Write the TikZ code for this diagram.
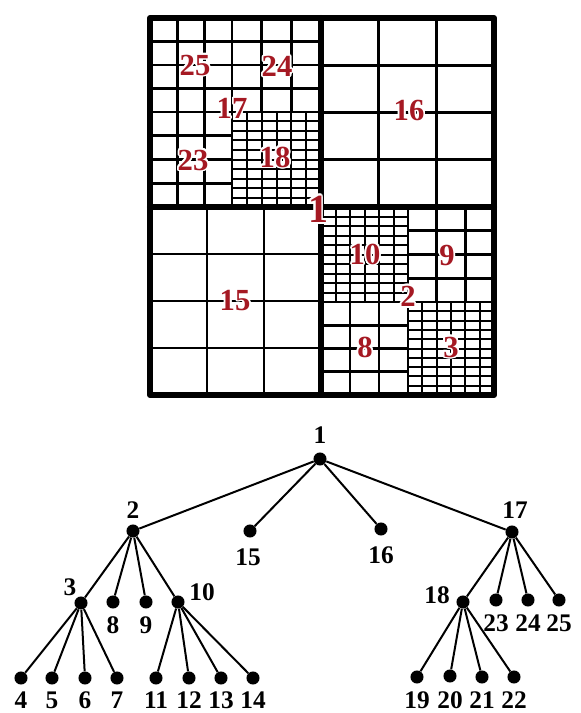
\documentclass[tikz,border=0pt]{standalone}
\usepackage{fontspec}
\setmainfont{Liberation Serif}
\usepackage{contour}
\contourlength{1.3pt}
\definecolor{labred}{RGB}{165,25,35}
\newcommand\qgrid[6]{%
  \foreach \k in {0,...,#5}{\draw[gridline] ({#1+(#3-#1)*\k/#5},#2) -- ({#1+(#3-#1)*\k/#5},#4);}%
  \foreach \k in {0,...,#6}{\draw[gridline] (#1,{#2+(#4-#2)*\k/#6}) -- (#3,{#2+(#4-#2)*\k/#6});}%
}
\tikzset{
  gridline/.style={line width=1.9pt},
  thickline/.style={line width=4.6pt, line cap=round, line join=round},
  gl/.style={text=labred, font=\bfseries\fontsize{23}{23}\selectfont, inner sep=0pt},
  bigl/.style={text=labred, font=\bfseries\fontsize{30}{30}\selectfont, inner sep=0pt},
  dot/.style={circle, fill=black, inner sep=0pt, minimum size=9.8pt},
  tl/.style={font=\bfseries\fontsize{19}{19}\selectfont, inner sep=0pt},
  edge/.style={line width=1.5pt},
}
\begin{document}
\begin{tikzpicture}[x=0.75pt,y=-0.75pt]
\useasboundingbox (0,0) rectangle (581,713);
\fill[white] (0,0) rectangle (581,713);
% ---------- quadtree grid ----------
% quadrant 17 (top-left)
\qgrid{150}{18}{232}{112}{3}{4}
\qgrid{232}{18}{321}{112}{3}{4}
\qgrid{150}{112}{232}{207}{3}{4}
\begin{scope}[gridline/.style={line width=1.5pt}]
\qgrid{232}{112}{321}{207}{6}{10}
\end{scope}
% quadrant 16 (top-right)
\qgrid{321}{18}{494}{207}{3}{4}
% quadrant 15 (bottom-left)
\qgrid{150}{207}{321}{395}{3}{4}
% quadrant 2 (bottom-right)
\begin{scope}[gridline/.style={line width=1.5pt}]
\qgrid{321}{207}{408}{302}{6}{10}
\qgrid{408}{302}{494}{395}{6}{10}
\end{scope}
\qgrid{408}{207}{494}{302}{3}{4}
\qgrid{321}{302}{408}{395}{3}{4}
% thick lines
\draw[thickline] (150,18) rectangle (494,395);
\draw[thickline] (321,18) -- (321,395);
\draw[thickline] (150,207) -- (494,207);
% labels
\node[gl] (g25) at (195,66) {\contour{white}{25}};
\node[gl] (g24) at (277,67) {\contour{white}{24}};
\node[gl] (g17) at (232,109) {\contour{white}{17}};
\node[gl] (g23) at (193,161) {\contour{white}{23}};
\node[gl] (g18) at (275,158) {\contour{white}{18}};
\node[gl] (g16) at (409,111) {\contour{white}{16}};
\node[bigl] (g1) at (318,210) {\contour{white}{1}};
\node[gl] (g15) at (235,301) {\contour{white}{15}};
\node[gl] (g10) at (365,255) {\contour{white}{10}};
\node[gl] (g9) at (447,256) {\contour{white}{9}};
\node[gl] (g2) at (408,297) {\contour{white}{2}};
\node[gl] (g8) at (365,348) {\contour{white}{8}};
\node[gl] (g3) at (451,348) {\contour{white}{3}};
% ---------- tree ----------
\node[dot] (n1) at (320,459) {};
\node[dot] (n2) at (133,531) {};
\node[dot] (n15) at (250,531) {};
\node[dot] (n16) at (381,529) {};
\node[dot] (n17) at (512,532) {};
\node[dot] (n3) at (81,603) {};
\node[dot] (n8) at (113,602) {};
\node[dot] (n9) at (146,602) {};
\node[dot] (n10) at (178,602) {};
\node[dot] (n4) at (21,678) {};
\node[dot] (n5) at (52,678) {};
\node[dot] (n6) at (85,678) {};
\node[dot] (n7) at (117,678) {};
\node[dot] (n11) at (156,678) {};
\node[dot] (n12) at (189,678) {};
\node[dot] (n13) at (221,678) {};
\node[dot] (n14) at (253,678) {};
\node[dot] (n18) at (463,602) {};
\node[dot] (n23) at (496,600) {};
\node[dot] (n24) at (528,600) {};
\node[dot] (n25) at (559,600) {};
\node[dot] (n19) at (417,677) {};
\node[dot] (n20) at (450,676) {};
\node[dot] (n21) at (482,677) {};
\node[dot] (n22) at (514,677) {};
\foreach \c in {2,15,16,17} \draw[edge] (n1) -- (n\c);
\foreach \c in {3,8,9,10} \draw[edge] (n2) -- (n\c);
\foreach \c in {4,5,6,7} \draw[edge] (n3) -- (n\c);
\foreach \c in {11,12,13,14} \draw[edge] (n10) -- (n\c);
\foreach \c in {18,23,24,25} \draw[edge] (n17) -- (n\c);
\foreach \c in {19,20,21,22} \draw[edge] (n18) -- (n\c);
% tree labels
\node[tl] (t1) at (320,435) {1};
\node[tl] (t2) at (133,510) {2};
\node[tl] (t15) at (248,557) {15};
\node[tl] (t16) at (381,555) {16};
\node[tl] (t17) at (515,510) {17};
\node[tl] (t3) at (70,587) {3};
\node[tl] (t8) at (113,625) {8};
\node[tl] (t9) at (146,625) {9};
\node[tl] (t10) at (202,592) {10};
\node[tl] (t18) at (437,595) {18};
\node[tl] (t23) at (496,623) {23};
\node[tl] (t24) at (528,623) {24};
\node[tl] (t25) at (559,623) {25};
\node[tl] (t4) at (21,700) {4};
\node[tl] (t5) at (52,700) {5};
\node[tl] (t6) at (85,700) {6};
\node[tl] (t7) at (117,700) {7};
\node[tl] (t11) at (156,700) {11};
\node[tl] (t12) at (189,700) {12};
\node[tl] (t13) at (221,700) {13};
\node[tl] (t14) at (253,700) {14};
\node[tl] (t19) at (417,700) {19};
\node[tl] (t20) at (450,700) {20};
\node[tl] (t21) at (482,700) {21};
\node[tl] (t22) at (514,700) {22};
\end{tikzpicture}
\end{document}
